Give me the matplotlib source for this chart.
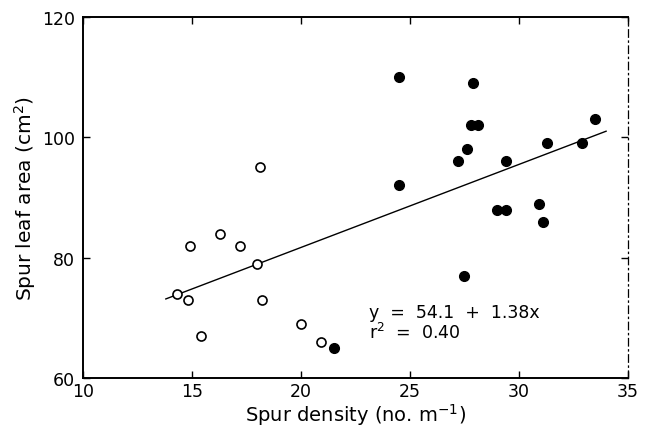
import numpy as np
import matplotlib.pyplot as plt

# open circles (low density group)
open_x = [14.3, 14.8, 14.9, 15.4, 16.3, 17.2, 18.1, 18.0, 18.2, 20.0, 20.9]
open_y = [74, 73, 82, 67, 84, 82, 95, 79, 73, 69, 66]

# filled circles (high density group)
fill_x = [21.5, 24.5, 24.5, 27.9, 27.8, 28.1, 27.6, 27.2, 27.5,
          29.4, 29.0, 29.4, 30.9, 31.1, 31.3, 32.9, 33.5]
fill_y = [65, 110, 92, 109, 102, 102, 98, 96, 77,
          96, 88, 88, 89, 86, 99, 99, 103]

# fitted line y = a + b x
a, b = 54.1, 1.38
fit_range = [13.8, 34.0]

plt.rcParams['font.family'] = ['DejaVu Sans']

fig = plt.figure(figsize=(6.51, 4.31), dpi=100)
ax = fig.add_axes([0.1275, 0.1206, 0.837, 0.8376])

xl = np.array(fit_range)
ax.plot(xl, a + b * xl, color='black', lw=1.0)

ax.plot(open_x, open_y, 'o', mfc='white', mec='black', mew=1.2, ms=6.5, ls='none')
ax.plot(fill_x, fill_y, 'o', mfc='black', mec='black', ms=7, ls='none')

ax.text(23.1, 71, 'y  =  54.1  +  1.38x', fontsize=12.5, va='center')
ax.text(23.1, 67.6, 'r$^2$  =  0.40', fontsize=12.5, va='center')

ax.set_xlim(10, 35)
ax.set_ylim(60, 120)
ax.set_xticks([10, 15, 20, 25, 30, 35])
ax.set_yticks([60, 80, 100, 120])
ax.tick_params(direction='in', top=True, right=True, length=5, width=1,
               labelsize=12.5)
ax.tick_params(axis='x', pad=3)
ax.tick_params(axis='y', pad=6)

ax.set_xlabel('Spur density (no. m$^{-1}$)', fontsize=14, labelpad=1)
ax.set_ylabel('Spur leaf area (cm$^2$)', fontsize=14.5, labelpad=3)

for s in ax.spines.values():
    s.set_linewidth(1.4)
ax.spines['right'].set_linestyle((0, (6, 3, 1, 3)))
ax.spines['right'].set_linewidth(0.9)

fig.savefig('out.png', dpi=100)
